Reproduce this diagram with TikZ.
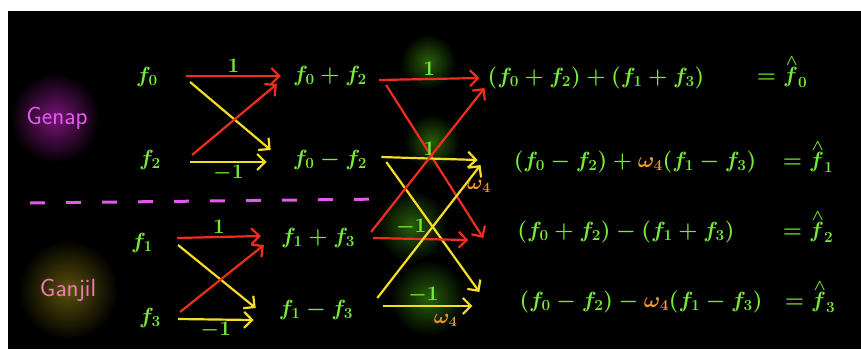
\documentclass[tikz,border=0pt]{standalone}
\usepackage{fix-cm}
\usetikzlibrary{arrows.meta}
\definecolor{chalkgreen}{RGB}{120,235,55}
\definecolor{chalkred}{RGB}{240,45,30}
\definecolor{chalkyellow}{RGB}{245,220,40}
\definecolor{chalkorange}{RGB}{245,150,40}
\definecolor{genapcol}{RGB}{225,90,235}
\definecolor{ganjilcol}{RGB}{240,120,180}
\definecolor{glowpurple}{RGB}{120,20,120}
\definecolor{glowolive}{RGB}{90,80,10}
\definecolor{glowgreen}{RGB}{40,95,10}
\begin{document}
\begin{tikzpicture}[x=1pt,y=-1pt,
    term/.style={text=chalkgreen, font=\fontsize{22}{26}\selectfont\boldmath, inner sep=0pt},
    lbl/.style={text=chalkgreen, font=\huge\boldmath, inner sep=2pt},
    wlbl/.style={text=chalkorange, font=\huge\boldmath, inner sep=2pt},
    wire/.style={line width=2.2pt, -{Straight Barb[length=8pt,width=16pt]}},
    glow/.style={inner color=#1, outer color=black}]
    \useasboundingbox (0,0) rectangle (861,349);
    \fill[white] (0,0) rectangle (861,349);
    \fill[black] (8,11) rectangle (861,349);
    % glows
    \shade[glow=glowpurple] (55,118) circle (45pt);
    \shade[glow=glowolive] (68,290) circle (50pt);
    \shade[glow=glowgreen] (428,62) circle (28pt);
    \shade[glow=glowgreen] (432,142) circle (28pt);
    \shade[glow=glowgreen] (412,226) circle (36pt);
    \shade[glow=glowgreen] (428,298) circle (38pt);
    % groups
    \node[text=genapcol, font=\Huge\sffamily] (genap) at (57,118) {Genap};
    \node[text=ganjilcol, font=\Huge\sffamily] (ganjil) at (68,290) {Ganjil};
    \draw[genapcol, line width=3pt, dash pattern=on 15pt off 21pt] (30,203) -- (385,199);
    % inputs
    \node[term] (f0) at (147,77) {$f_0$};
    \node[term] (f2) at (150,160) {$f_2$};
    \node[term] (f1) at (142,243) {$f_1$};
    \node[term] (f3) at (150,318) {$f_3$};
    % first stage
    \node[term] (s0) at (330,76) {$f_0+f_2$};
    \node[term] (d0) at (330,160) {$f_0-f_2$};
    \node[term] (s1) at (318,238) {$f_1+f_3$};
    \node[term] (d1) at (316,310) {$f_1-f_3$};
    % outputs
    \node[term] (r0) at (596,78) {$(f_0+f_2)+(f_1+f_3)$};
    \node[term] (r1) at (635,162) {$(f_0-f_2)+\textcolor{chalkorange}{\omega_4}(f_1-f_3)$};
    \node[term] (r2) at (626,232) {$(f_0+f_2)-(f_1+f_3)$};
    \node[term] (r3) at (641,302) {$(f_0-f_2)-\textcolor{chalkorange}{\omega_4}(f_1-f_3)$};
    \node[term] (e0) at (782,72) {$=\mathord{\stackrel{\wedge}{f}}_0$};
    \node[term] (e1) at (808,157) {$=\mathord{\stackrel{\wedge}{f}}_1$};
    \node[term] (e2) at (808,227) {$=\mathord{\stackrel{\wedge}{f}}_2$};
    \node[term] (e3) at (810,297) {$=\mathord{\stackrel{\wedge}{f}}_3$};

    \draw[wire, chalkred] ([shift={(28,-1)}]f0.east) -- ([shift={(-12,0)}]s0.west) node[lbl, midway, above] {$1$};
    \draw[wire, chalkyellow] ([shift={(32,5)}]f0.east) -- ([shift={(-22,-10)}]d0.west);
    \draw[wire, chalkred] ([shift={(31,-5)}]f2.east) -- ([shift={(-16,8)}]s0.west);
    \draw[wire, chalkyellow] ([shift={(29,2)}]f2.east) -- ([shift={(-26,2)}]d0.west) node[lbl, midway, below] {$-1$};

    \draw[wire, chalkred] ([shift={(24,-5)}]f1.east) -- ([shift={(-20,-2)}]s1.west) node[lbl, midway, above] {$1$};
    \draw[wire, chalkyellow] ([shift={(25,2)}]f1.east) -- ([shift={(-23,-2)}]d1.west);
    \draw[wire, chalkred] ([shift={(19,-6)}]f3.east) -- ([shift={(-17,7)}]s1.west);
    \draw[wire, chalkyellow] ([shift={(17,1)}]f3.east) -- ([shift={(-25,10)}]d1.west) node[lbl, midway, below] {$-1$};

    \draw[wire, chalkred] ([shift={(12,4)}]s0.east) -- ([shift={(-8,0)}]r0.west) node[lbl, midway, above] {$1$};
    \draw[wire, chalkred] ([shift={(19,9)}]s0.east) -- ([shift={(-34,6)}]r2.west);
    \draw[wire, chalkyellow] ([shift={(14,-3)}]d0.east) -- ([shift={(-36,-2)}]r1.west) node[lbl, midway, above] {$1$};
    \draw[wire, chalkyellow] ([shift={(19,2)}]d0.east) -- ([shift={(-40,-10)}]r3.west);
    \draw[wire, chalkred] ([shift={(16,-6)}]s1.east) -- ([shift={(-3,10)}]r0.west);
    \draw[wire, chalkred] ([shift={(18,0)}]s1.east) -- ([shift={(-49,8)}]r2.west) node[lbl, pos=0.4, above] {$-1$};
    \draw[wire, chalkyellow] ([shift={(24,-12)}]d1.east) -- ([shift={(-33,3)}]r1.west) node[wlbl, pos=0.84, right] {$\omega_4$};
    \draw[wire, chalkyellow] ([shift={(30,-4)}]d1.east) -- ([shift={(-47,4)}]r3.west) node[lbl, pos=0.45, above] {$-1$} node[wlbl, pos=0.7, below=5pt] {$\omega_4$};
\end{tikzpicture}
\end{document}
